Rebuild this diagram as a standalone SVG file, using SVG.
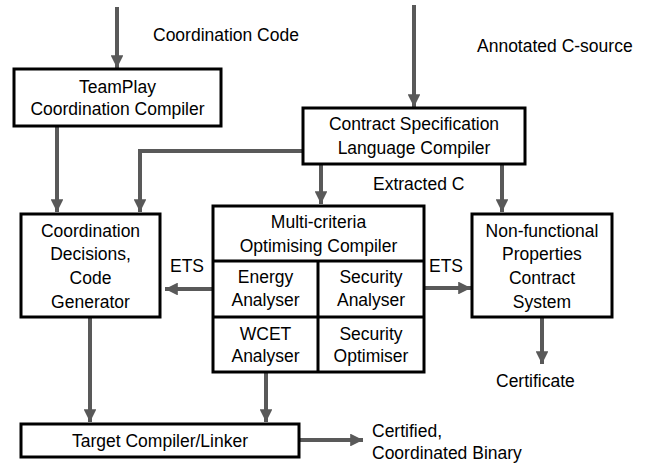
<svg xmlns="http://www.w3.org/2000/svg" width="655" height="464" viewBox="0 0 655 464">
<defs>
<marker id="ah" viewBox="0 0 10 10" refX="10" refY="5" markerWidth="3.2" markerHeight="3.2" markerUnits="strokeWidth" orient="auto">
<path d="M0,0 L10,5 L0,10 z" fill="#595959"/>
</marker>
<style>
.box{fill:#fff;stroke:#000;stroke-width:3}
.c{fill:none;stroke:#595959;stroke-width:4;marker-end:url(#ah)}
.cn{fill:none;stroke:#595959;stroke-width:4}
text{font-family:"Liberation Sans",Arial,sans-serif;font-size:17.5px;fill:#000}
.m{text-anchor:middle}
</style>
</defs>
<rect width="655" height="464" fill="#fff"/>
<g id="connectors">
<path class="c" d="M117,7 V68"/>
<path class="c" d="M414,5 V107"/>
<path class="c" d="M57,126 V212"/>
<path class="c" d="M303,151 H140 V212"/>
<path class="c" d="M321,164 V204"/>
<path class="c" d="M502,164 V212"/>
<path class="c" d="M213,289 H165"/>
<path class="c" d="M424,288 H471"/>
<path class="c" d="M542,317 V364"/>
<path class="c" d="M90,317 V422"/>
<path class="c" d="M266,372 V422"/>
<path class="c" d="M299,440 H363"/>
</g>
<g id="labels">
<text x="153" y="41">Coordination Code</text>
<text x="477" y="52">Annotated C-source</text>
<text x="373" y="190">Extracted C</text>
<text x="170" y="272">ETS</text>
<text x="429" y="272">ETS</text>
<text x="496" y="387">Certificate</text>
<text x="372" y="437">Certified,</text>
<text x="372" y="459">Coordinated Binary</text>
</g>
<g id="teamplay">
<rect class="box" x="14" y="69" width="207" height="57"/>
<text class="m" x="117.5" y="93">TeamPlay</text>
<text class="m" x="117.5" y="115">Coordination Compiler</text>
</g>
<g id="contract">
<rect class="box" x="303" y="108" width="222" height="56"/>
<text class="m" x="414" y="130">Contract Specification</text>
<text class="m" x="414" y="154">Language Compiler</text>
</g>
<g id="coordination">
<rect class="box" x="21" y="214" width="139" height="103"/>
<text class="m" x="90.5" y="237">Coordination</text>
<text class="m" x="90.5" y="260">Decisions,</text>
<text class="m" x="90.5" y="284">Code</text>
<text class="m" x="90.5" y="308">Generator</text>
</g>
<g id="multicriteria">
<rect class="box" x="213" y="206" width="211" height="166"/>
<path d="M213,261 H424 M213,317 H424 M318,261 V372" stroke="#000" stroke-width="3" fill="none"/>
<text class="m" x="318.5" y="228">Multi-criteria</text>
<text class="m" x="318.5" y="252">Optimising Compiler</text>
</g>
<g id="energy">
<text class="m" x="265.5" y="283">Energy</text>
<text class="m" x="265.5" y="306">Analyser</text>
</g>
<g id="security-analyser">
<text class="m" x="371" y="283">Security</text>
<text class="m" x="371" y="306">Analyser</text>
</g>
<g id="wcet">
<text class="m" x="265.5" y="340">WCET</text>
<text class="m" x="265.5" y="362">Analyser</text>
</g>
<g id="security-optimiser">
<text class="m" x="371" y="340">Security</text>
<text class="m" x="371" y="362">Optimiser</text>
</g>
<g id="nonfunctional">
<rect class="box" x="472" y="214" width="140" height="103"/>
<text class="m" x="542" y="237">Non-functional</text>
<text class="m" x="542" y="260">Properties</text>
<text class="m" x="542" y="284">Contract</text>
<text class="m" x="542" y="308">System</text>
</g>
<g id="target">
<rect class="box" x="21" y="424" width="278" height="33"/>
<text class="m" x="160" y="447">Target Compiler/Linker</text>
</g>
</svg>
